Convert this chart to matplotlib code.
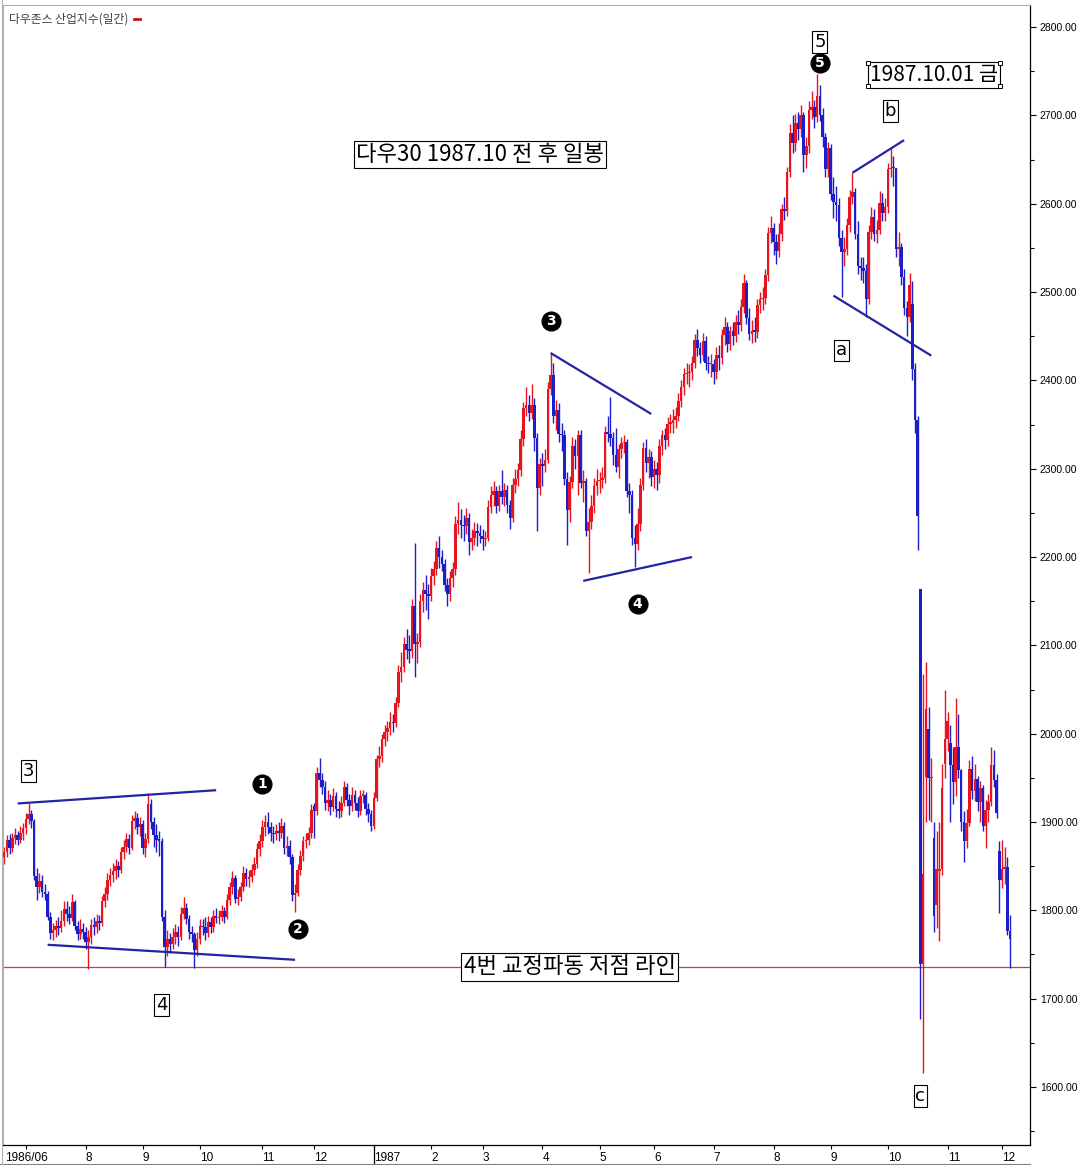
import numpy as np
import pandas as pd
import matplotlib
matplotlib.use('Agg')
import matplotlib.pyplot as plt
from matplotlib.lines import Line2D
from matplotlib.transforms import blended_transform_factory
from matplotlib.ticker import MultipleLocator

plt.rcParams['font.family'] = ['Noto Sans CJK KR', 'DejaVu Sans']

# ---------------- data: DJIA daily, 1986-06-19 .. 1987-12-04 ----------------
start_date = '1986-06-19'
end_date = '1987-12-04'
holidays = ['1986-07-04', '1986-09-01', '1986-11-27', '1986-12-25', '1987-01-01',
            '1987-02-16', '1987-04-17', '1987-05-25', '1987-07-03', '1987-09-07',
            '1987-11-26']

opens = [
    1860,1866,1880,1870,1882,1885,1880,1888,
    1893,1903,1909,1901,1839,1826,1833,1821,1818,1793,1774,1778,1782,1780,1788,1802,1796,1791,1809,1782,1773,1779,
    1775,1764,1770,1783,1781,1788,1786,1810,1819,1834,1840,1845,1850,1846,1866,1872,1881,1871,1901,1904,1894,
    1898,1871,1881,1920,1900,1885,1880,1879,1793,1759,1768,1762,1770,1775,1770,1796,1803,1790,1775,1773,1755,
    1768,1782,1781,1774,1787,1781,1794,1791,1793,1799,1793,1812,1826,1837,1813,1815,1826,1842,1836,1838,1846,1852,1869,
    1878,1894,1900,1894,1887,1886,1890,1887,1895,1870,1873,1860,1817,1820,1846,1862,1878,1880,1888,
    1918,1913,1956,1948,1940,1922,1925,1917,1930,1915,1912,1922,1940,1925,1918,1931,1922,1913,1930,1931,1915,1909,
    1896,1927,1971,1975,1994,2002,2006,2013,2012,2035,2070,2076,2102,2095,2094,2145,2102,2104,2150,2163,2158,
    2156,2179,2186,2210,2200,2192,2168,2158,2176,2186,2237,2242,2236,2235,2244,2217,2222,2230,2227,
    2224,2220,2221,2257,2270,2275,2258,2275,2268,2276,2259,2244,2282,2288,2298,2334,2369,2372,2363,2372,2335,2278,
    2305,2303,2310,2390,2406,2360,2367,2339,2338,2288,2253,2285,2326,2314,2338,2284,2286,2230,2240,2258,2280,
    2286,2287,2290,2342,2339,2335,2316,2302,2322,2329,2330,2275,2270,2221,2215,2237,2282,2324,2306,2313,
    2291,2300,2293,2326,2338,2333,2351,2352,2355,2360,2377,2392,2407,2408,2409,2420,2446,2437,2429,2445,2420,2418,
    2419,2409,2429,2425,2451,2460,2441,2456,2450,2466,2463,2483,2510,2471,2452,2456,2455,2485,2492,2493,2519,2567,
    2572,2557,2547,2566,2594,2592,2636,2680,2669,2691,2685,2700,2655,2665,2706,2709,2698,2722,2701,2676,2639,
    2663,2611,2602,2599,2561,2545,2549,2576,2608,2613,2566,2530,2527,2524,2492,2568,2585,2566,2570,2601,2590,
    2596,2639,2641,2640,2549,2551,2517,2482,2472,2486,2413,2355,2164,1739,1951,2005,1950,1882,1806,1845,1847,1966,
    1994,1990,1964,1945,1985,1959,1900,1879,1899,1960,1935,1949,1923,1939,1895,1914,1923,1964,1947,1867,
    1834,1847,1849,1777,
]
highs = [
    1872,1885,1886,1888,1893,1890,1896,1899,
    1910,1921,1914,1903,1848,1842,1840,1830,1822,1798,1786,1789,1792,1800,1810,1810,1805,1818,1812,1788,1790,1786,
    1781,1778,1790,1792,1796,1795,1816,1826,1842,1848,1854,1858,1856,1872,1880,1888,1886,1908,1912,1910,1906,
    1902,1888,1933,1926,1906,1898,1890,1882,1800,1778,1774,1780,1785,1782,1804,1815,1808,1795,1782,1776,1776,
    1790,1790,1792,1794,1792,1800,1803,1800,1806,1804,1818,1832,1844,1840,1824,1832,1850,1848,1846,1852,1860,1876,1886,
    1902,1908,1911,1900,1896,1898,1900,1904,1900,1884,1880,1864,1830,1852,1868,1884,1888,1894,1920,
    1922,1962,1972,1956,1946,1936,1932,1938,1934,1924,1930,1946,1944,1932,1940,1936,1928,1936,1936,1934,1922,1914,
    1934,1976,1986,2000,2010,2014,2024,2022,2042,2078,2092,2110,2118,2112,2152,2216,2114,2158,2172,2180,2170,
    2188,2196,2218,2224,2208,2198,2176,2184,2194,2246,2262,2254,2248,2256,2250,2232,2240,2238,2236,
    2232,2230,2264,2280,2286,2280,2282,2298,2284,2282,2264,2290,2300,2306,2344,2376,2392,2384,2396,2380,2340,2312,
    2318,2322,2398,2431,2420,2378,2374,2352,2344,2296,2292,2336,2334,2344,2344,2298,2290,2256,2270,2290,2300,
    2296,2302,2348,2360,2381,2342,2346,2328,2336,2338,2334,2284,2276,2236,2256,2290,2330,2334,2322,2320,
    2310,2308,2334,2344,2346,2358,2362,2368,2370,2386,2400,2414,2420,2418,2428,2452,2458,2444,2454,2450,2428,2430,
    2424,2438,2440,2458,2472,2466,2462,2466,2474,2480,2492,2520,2514,2482,2468,2472,2492,2500,2506,2526,2574,2586,
    2578,2566,2578,2600,2608,2642,2690,2700,2702,2704,2712,2704,2676,2716,2728,2718,2747,2734,2708,2680,2670,
    2668,2630,2620,2606,2570,2562,2584,2616,2635,2618,2580,2540,2540,2532,2576,2596,2594,2582,2614,2612,2606,
    2646,2663,2654,2640,2568,2556,2526,2490,2522,2512,2420,2360,2164,2067,2081,2030,1972,1900,1890,1900,1966,2049,
    2025,2010,1985,2040,2022,1960,1912,1915,1970,1975,1966,1952,1946,1942,1925,1932,1985,1982,1954,1878,
    1880,1872,1860,1795,
]
lows = [
    1852,1860,1864,1866,1875,1874,1876,1880,
    1886,1898,1893,1834,1812,1820,1815,1812,1789,1768,1766,1770,1772,1776,1782,1788,1784,1788,1778,1766,1768,1768,
    1756,1734,1762,1772,1774,1778,1782,1804,1812,1828,1832,1836,1838,1842,1858,1866,1864,1868,1892,1886,1884,
    1864,1860,1876,1892,1872,1866,1862,1788,1736,1748,1752,1756,1762,1760,1766,1790,1784,1768,1764,1735,1748,
    1762,1772,1766,1770,1774,1776,1786,1784,1788,1786,1790,1806,1818,1808,1806,1810,1822,1828,1826,1832,1840,1848,1862,
    1872,1884,1886,1878,1876,1880,1878,1882,1864,1862,1852,1810,1798,1816,1840,1856,1870,1874,1882,
    1882,1908,1940,1932,1914,1912,1908,1912,1906,1904,1906,1918,1918,1908,1912,1914,1906,1908,1922,1908,1900,1890,
    1892,1924,1962,1968,1986,1992,1998,2002,2008,2030,2058,2070,2084,2080,2086,2064,2080,2098,2138,2140,2130,
    2150,2168,2180,2188,2184,2162,2144,2150,2166,2180,2226,2222,2218,2226,2202,2208,2214,2212,2216,
    2208,2212,2218,2250,2258,2250,2252,2260,2258,2250,2232,2240,2272,2280,2292,2326,2360,2354,2356,2320,2230,2270,
    2280,2296,2306,2384,2352,2344,2330,2320,2282,2214,2240,2278,2300,2270,2278,2262,2224,2182,2232,2250,2270,
    2272,2278,2284,2330,2326,2304,2296,2290,2312,2318,2268,2250,2214,2189,2208,2230,2276,2296,2290,2280,
    2278,2276,2284,2316,2322,2326,2340,2340,2346,2354,2370,2384,2396,2392,2400,2414,2428,2420,2422,2412,2408,2404,
    2396,2402,2412,2418,2440,2432,2434,2440,2444,2452,2456,2476,2464,2446,2442,2444,2448,2476,2480,2486,2512,2556,
    2542,2532,2540,2558,2582,2586,2630,2658,2660,2672,2676,2636,2640,2658,2696,2686,2692,2694,2664,2630,2630,
    2604,2584,2580,2552,2494,2530,2542,2568,2600,2560,2520,2514,2510,2472,2486,2560,2558,2556,2566,2580,2580,
    2590,2630,2620,2540,2530,2508,2474,2450,2466,2400,2340,2208,1677,1616,1900,1902,1900,1775,1780,1765,1840,1950,
    1980,1900,1920,1930,1950,1890,1855,1870,1895,1926,1924,1912,1900,1890,1870,1900,1918,1940,1905,1797,
    1825,1830,1772,1735,
]
closes = [
    1866,1880,1870,1882,1885,1880,1888,1893,
    1903,1909,1901,1839,1826,1833,1821,1818,1793,1774,1778,1782,1780,1788,1802,1796,1791,1809,1782,1773,1779,1775,
    1764,1770,1783,1781,1788,1786,1810,1819,1834,1840,1845,1850,1846,1866,1872,1881,1871,1901,1904,1894,1898,
    1871,1881,1920,1900,1885,1880,1879,1793,1759,1768,1762,1770,1775,1770,1796,1803,1790,1775,1773,1755,1768,
    1782,1781,1774,1787,1781,1794,1791,1793,1799,1793,1812,1826,1837,1813,1815,1826,1842,1836,1838,1846,1852,1869,1878,
    1894,1900,1894,1887,1886,1890,1887,1895,1870,1873,1860,1817,1820,1846,1862,1878,1880,1888,1914,
    1913,1956,1948,1940,1922,1925,1917,1930,1915,1912,1922,1940,1925,1918,1931,1922,1913,1930,1931,1915,1909,1896,
    1927,1971,1975,1994,2002,2006,2013,2012,2035,2070,2076,2102,2095,2094,2145,2102,2104,2150,2163,2158,2156,
    2179,2186,2210,2200,2192,2168,2158,2176,2186,2237,2242,2236,2235,2244,2217,2222,2230,2227,2224,
    2220,2221,2257,2270,2275,2258,2275,2268,2276,2259,2244,2282,2288,2298,2334,2369,2372,2363,2372,2335,2278,2305,
    2303,2310,2390,2406,2360,2367,2339,2338,2288,2253,2285,2326,2314,2338,2284,2286,2230,2240,2258,2280,2286,
    2287,2290,2342,2339,2335,2316,2302,2322,2329,2330,2275,2270,2221,2215,2237,2282,2324,2306,2313,2291,
    2300,2293,2326,2338,2333,2351,2352,2355,2360,2377,2392,2407,2408,2409,2420,2446,2437,2429,2445,2420,2418,2419,
    2409,2429,2425,2451,2460,2441,2456,2450,2466,2463,2483,2510,2471,2452,2456,2455,2485,2492,2493,2519,2567,2572,
    2557,2547,2566,2594,2592,2636,2680,2669,2691,2685,2700,2655,2665,2706,2709,2698,2722,2701,2676,2639,2663,
    2611,2602,2599,2561,2545,2549,2576,2608,2613,2566,2530,2527,2524,2492,2568,2585,2566,2570,2601,2590,2596,
    2639,2641,2640,2549,2551,2517,2482,2472,2508,2413,2355,2247,1739,1841,2028,1950,1951,1794,1847,1847,1938,1994,
    2014,1964,1945,1985,1959,1900,1879,1899,1960,1935,1949,1923,1939,1895,1914,1923,1964,1947,1910,1834,
    1847,1849,1777,1767,
]

support_level = 1736          # "4번 교정파동 저점 라인"
# trend lines: (start date, start price, end date, end price)
trend_lines = [
    ('1986-06-26', 1921, '1986-10-09', 1936),
    ('1986-07-14', 1761, '1986-11-19', 1744),
    ('1987-04-06', 2431, '1987-05-29', 2362),
    ('1987-04-23', 2173, '1987-06-19', 2200),
    ('1987-09-14', 2635, '1987-10-09', 2672),
    ('1987-09-02', 2496, '1987-10-23', 2428),
]
box_labels = [('3', '1986-07-02', 1958), ('4', '1986-09-11', 1693), ('5', '1987-08-26', 2783),
              ('a', '1987-09-08', 2434), ('b', '1987-10-02', 2705), ('c', '1987-10-19', 1590)]
wave_marks = [('1', '1986-11-03', 1943), ('2', '1986-11-20', 1779), ('3', '1987-04-06', 2467),
              ('4', '1987-05-21', 2147), ('5', '1987-08-26', 2759)]

# ---------------- build ----------------
dates = pd.bdate_range(start_date, end_date)
dates = dates[~dates.isin(pd.to_datetime(holidays))]
n = min(len(dates), len(opens), len(highs), len(lows), len(closes))
dates = dates[:n]
o = np.array(opens[:n], float); h = np.array(highs[:n], float)
l = np.array(lows[:n], float); c = np.array(closes[:n], float)
x = np.arange(n)
pos = pd.Series(x, index=dates)

def xi(d):
    return float(pos.index.get_indexer([pd.Timestamp(d)], method='nearest')[0])

W, H = 1083, 1165
fig = plt.figure(figsize=(W / 100, H / 100), dpi=100)
ax = fig.add_axes([3 / W, 20 / H, 1027 / W, 1140 / H])
ax.set_xlim(-0.4, 377.3)
ax.set_ylim(1534.3, 2825)

RED = '#E6141E'
BLUE = '#1E1EC8'
up = c >= o
cols = np.where(up, RED, BLUE)
ax.vlines(x, l, h, colors=cols, linewidth=1.0, zorder=2)
ax.bar(x, np.maximum(np.abs(c - o), 1.5), bottom=np.minimum(o, c), width=0.95,
       color=cols, linewidth=0, zorder=3, antialiased=False)

ax.axhline(support_level, color='#D03A3A', lw=0.9, zorder=1)

for d0, p0, d1, p1 in trend_lines:
    ax.plot([xi(d0), xi(d1)], [p0, p1], color='#2323A5', lw=1.6, zorder=4,
            solid_capstyle='butt')

boxkw = dict(boxstyle='square,pad=0.1', fc='white', ec='black', lw=0.8)
for t, d, p in box_labels:
    ax.text(xi(d), p, t, fontsize=13, ha='center', va='center', bbox=boxkw, zorder=6,
            family=['DejaVu Sans'])

for t, d, p in wave_marks:
    ax.plot([xi(d)], [p], 'o', ms=13.5, color='black', zorder=6)
    ax.text(xi(d), p, t, fontsize=10, color='white', fontweight='bold', ha='center',
            va='center', zorder=7, family=['DejaVu Sans'])

ax.text(xi('1987-02-27'), 2656, '다우30 1987.10 전 후 일봉', fontsize=16, ha='center',
        va='center', bbox=boxkw, zorder=6)
ax.text(xi('1987-04-15'), support_level, '4번 교정파동 저점 라인', fontsize=16, ha='center',
        va='center', bbox=boxkw, zorder=6)
tdate = ax.text(xi('1987-10-26'), 2746, '1987.10.01 금', fontsize=15, ha='center',
                va='center', bbox=boxkw, zorder=6)
hdr = ax.text(0.006, 0.9935, '다우존스 산업지수(일간)', transform=ax.transAxes, va='top',
              ha='left', fontsize=8.5, color='#404040')

# axes styling
for s in ['left', 'top']:
    ax.spines[s].set_color('#B0B0B0')
    ax.spines[s].set_linewidth(0.8)
for s in ['right', 'bottom']:
    ax.spines[s].set_color('black')
    ax.spines[s].set_linewidth(0.9)

ax.yaxis.tick_right()
yt = np.arange(1600, 2801, 100)
ax.set_yticks(yt)
ax.set_yticklabels([f'{v:.2f}' for v in yt], fontsize=7.5, family=['Liberation Sans'])
ax.yaxis.set_minor_locator(MultipleLocator(50))
ax.tick_params(axis='y', which='major', length=4.5, width=0.8, pad=2.5, direction='out')
ax.tick_params(axis='y', which='minor', length=3, width=0.8, direction='out')

ms = pos.groupby([dates.year, dates.month]).first()
tick_pos, tick_lab = [], []
for (yy, mm), ix in ms.items():
    if ix == 0:
        continue
    tick_pos.append(ix)
    if (yy, mm) == (1986, 7):
        tick_lab.append('')
    elif mm == 1:
        tick_lab.append(str(yy))
    else:
        tick_lab.append(str(mm))
ax.set_xticks(tick_pos)
ax.set_xticklabels(tick_lab, fontsize=8.5, family=['Liberation Sans'], ha='left')
ax.tick_params(axis='x', length=3, width=0.8, pad=2, direction='out')
ax.text(0.3, -0.006, '1986/06', transform=blended_transform_factory(ax.transData, ax.transAxes),
        fontsize=8.5, family=['Liberation Sans'], ha='left', va='top')
trb = blended_transform_factory(ax.transData, ax.transAxes)
jan87 = xi('1987-01-02')
ax.plot([jan87, jan87], [0, -19 / 1140], transform=trb, color='black', lw=0.9, clip_on=False)
fig.add_artist(Line2D([0, 1030 / W], [1.5 / H, 1.5 / H], color='#808080', lw=0.8))
fig.add_artist(Line2D([2 / W, 2 / W], [0, 1], color='#B0B0B0', lw=0.8))

# small red mark after header, selection handles on the date box
fig.canvas.draw()
r = fig.canvas.get_renderer()
bb = hdr.get_window_extent(r)
ym = (bb.y0 + bb.y1) / 2 / H
fig.add_artist(Line2D([(bb.x1 + 5) / W, (bb.x1 + 11) / W], [ym, ym], color='#D01010', lw=2))
bp = tdate.get_bbox_patch().get_window_extent(r)
for px in (bp.x0, bp.x1):
    for py in (bp.y0 + 1.5, bp.y1 - 1.5):
        fig.add_artist(Line2D([px / W], [py / H], marker='s', ms=3.5, mfc='white',
                              mec='black', mew=0.7, ls='none'))

fig.savefig('out.png', dpi=100, facecolor='white')
